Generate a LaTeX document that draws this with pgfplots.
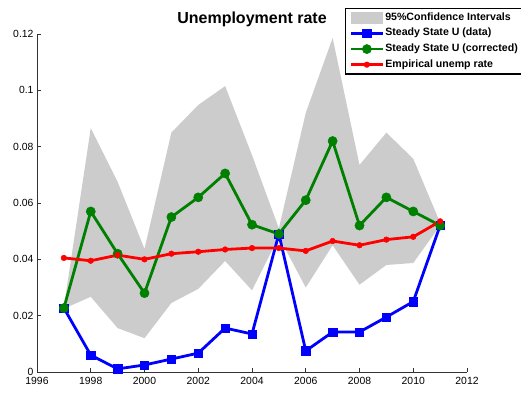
\documentclass[border=0pt]{standalone}
\usepackage{fontspec}
\setmainfont{Liberation Sans}
\usepackage{pgfplots}
\pgfplotsset{compat=1.18}
\definecolor{bandgray}{RGB}{204,204,204}
\definecolor{mblue}{RGB}{0,0,255}
\definecolor{mgreen}{RGB}{0,128,0}
\definecolor{mred}{RGB}{255,0,0}

\begin{document}
\begin{tikzpicture}
\begin{axis}[
  scale only axis,
  width=430pt, height=338pt,
  xmin=1996, xmax=2012, ymin=0, ymax=0.12,
  axis x line=bottom, axis y line=left,
  axis line style={-, black!80, line width=0.9pt},
  tick align=inside, major tick length=4pt,
  tick style={black!80, line width=0.8pt},
  xtick={1996,1998,...,2012},
  ytick={0,0.02,0.04,0.06,0.08,0.1,0.12},
  x tick label style={/pgf/number format/1000 sep={}, yshift=-2pt},
  y tick label style={/pgf/number format/.cd, fixed, precision=2},
  /pgf/number format/assume math mode=true,
  tick label style={font=\fontsize{10.4}{12}\selectfont},
  clip=false,
  title={Unemployment rate},
  every axis title shift=0pt,
  title style={at={(axis description cs:0.5,1.0296)}, anchor=base,
    font=\fontsize{16}{18}\selectfont\bfseries},
  legend style={at={(axis description cs:0.716,1.077)}, anchor=north west,
    draw=black, line width=1.2pt, fill=white,
    inner xsep=4pt, inner ysep=1.5pt,
    font=\fontsize{10.6}{12}\selectfont\bfseries,
    nodes={inner xsep=1pt, inner ysep=2.8pt, text height=7.5pt, text depth=2.5pt},
    legend cell align=left},
]

% 95% confidence band
\addplot[fill=bandgray, draw=none, area legend,
  legend image code/.code={\fill[bandgray] (0pt,-6pt) rectangle (32pt,6pt);}]
  coordinates {
  (1997,0.023) (1998,0.0866) (1999,0.0675) (2000,0.0437) (2001,0.085)
  (2002,0.0948) (2003,0.1015) (2004,0.077) (2005,0.051) (2006,0.092)
  (2007,0.1186) (2008,0.0735) (2009,0.085) (2010,0.0757) (2011,0.053)
  (2011,0.052) (2010,0.0387) (2009,0.038) (2008,0.031) (2007,0.045)
  (2006,0.030) (2005,0.048) (2004,0.029) (2003,0.0394) (2002,0.0295)
  (2001,0.0245) (2000,0.012) (1999,0.0156) (1998,0.0267) (1997,0.0225)
} -- cycle;
\addlegendentry{95\%Confidence Intervals}

\pgfplotsset{legend image code/.code={
  \draw[mark repeat=2, mark phase=2, #1] plot coordinates {(0pt,0pt) (16pt,0pt) (32pt,0pt)};}}

% steady state U (data)
\addplot[mblue, line width=2.8pt, mark=square*, mark size=4.2pt,
  mark options={line width=0.5pt}] coordinates {
  (1997,0.0227) (1998,0.006) (1999,0.0011) (2000,0.0025) (2001,0.0046)
  (2002,0.0067) (2003,0.0156) (2004,0.0135) (2005,0.049) (2006,0.0075)
  (2007,0.0142) (2008,0.0142) (2009,0.0195) (2010,0.025) (2011,0.052)
};
\addlegendentry{Steady State U (data)}

% steady state U (corrected)
\addplot[mgreen, line width=2.8pt, mark=*, mark size=4.6pt,
  mark options={line width=0.5pt}] coordinates {
  (1997,0.0227) (1998,0.057) (1999,0.042) (2000,0.028) (2001,0.055)
  (2002,0.062) (2003,0.0705) (2004,0.0523) (2005,0.049) (2006,0.061)
  (2007,0.082) (2008,0.052) (2009,0.062) (2010,0.057) (2011,0.052)
};
\addlegendentry{Steady State U (corrected)}

% empirical unemployment rate
\addplot[mred, line width=2.8pt, mark=*, mark size=2.8pt,
  mark options={line width=0.5pt}] coordinates {
  (1997,0.0405) (1998,0.0395) (1999,0.0415) (2000,0.040) (2001,0.042)
  (2002,0.0427) (2003,0.0435) (2004,0.044) (2005,0.044) (2006,0.043)
  (2007,0.0465) (2008,0.045) (2009,0.047) (2010,0.048) (2011,0.0535)
};
\addlegendentry{Empirical unemp rate}

\end{axis}
\pgfresetboundingbox
\path[use as bounding box] (-37pt,-20pt) rectangle (484pt,372pt);
\end{tikzpicture}
\end{document}
